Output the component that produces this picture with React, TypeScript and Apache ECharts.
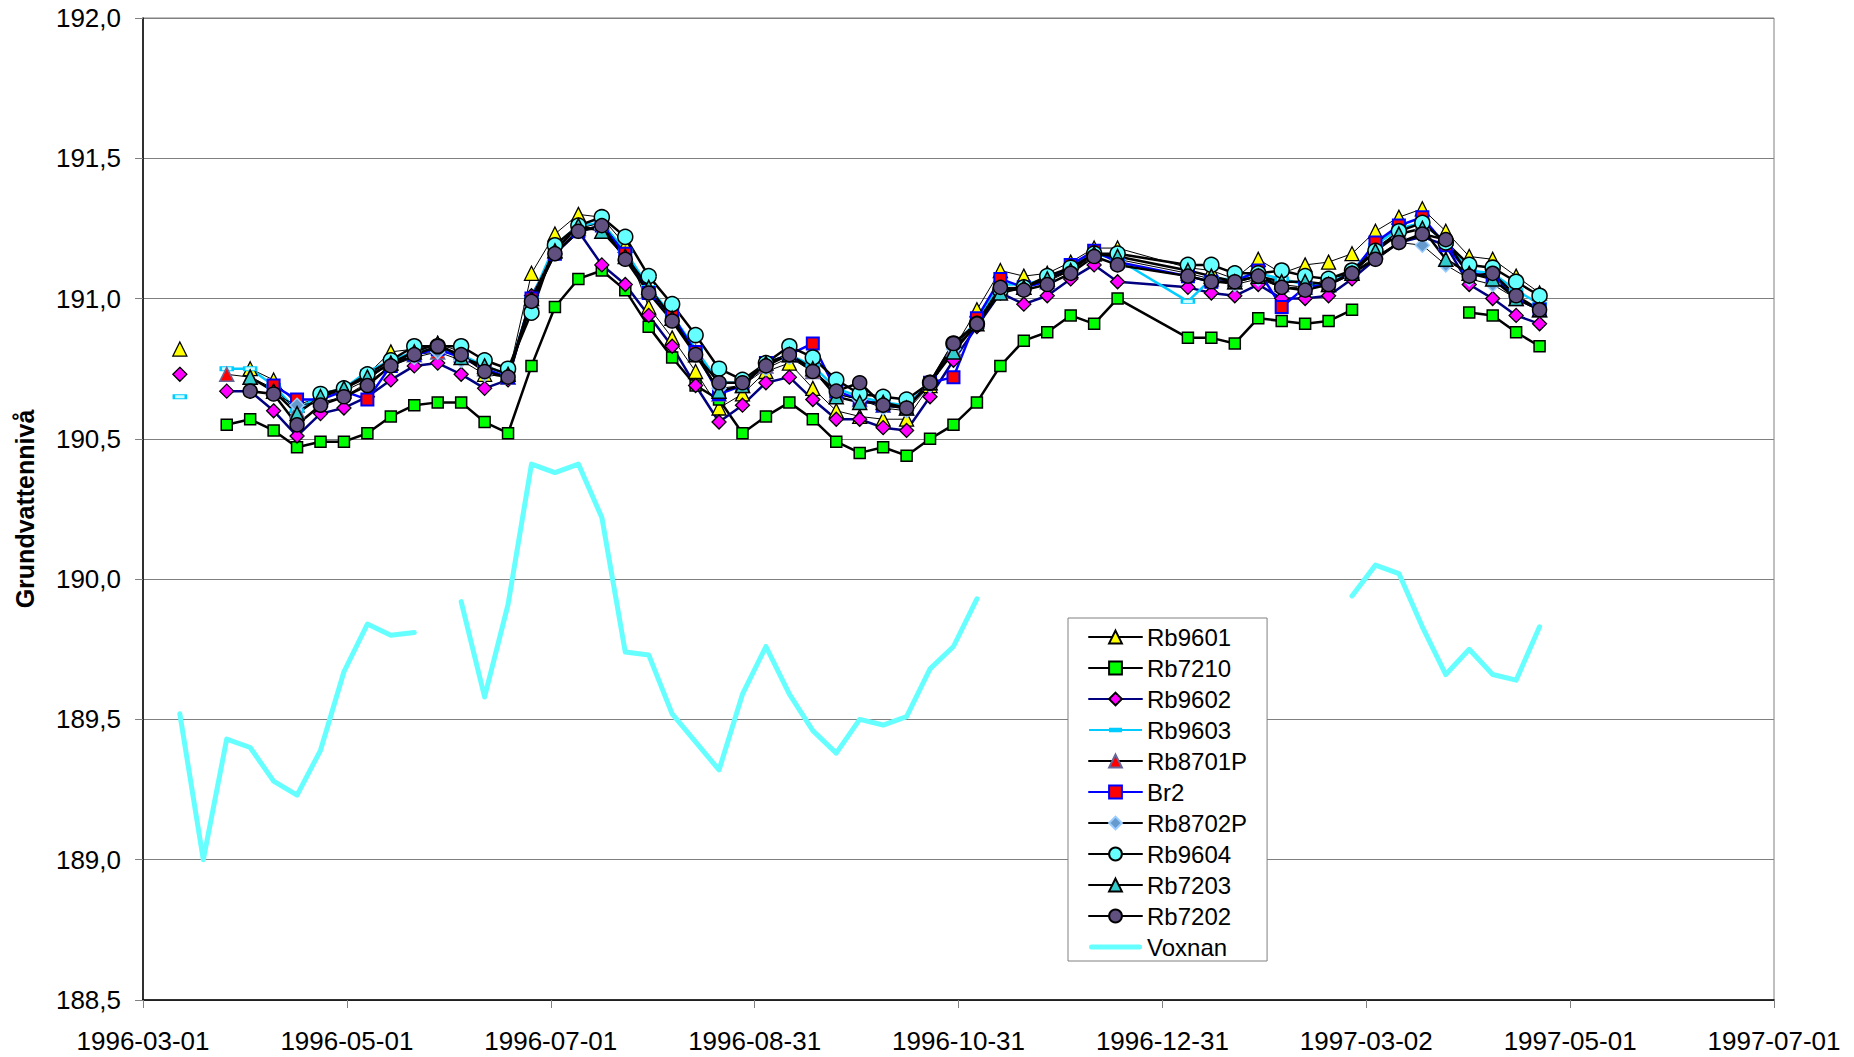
import React, { useEffect, useRef } from "react";
import * as echarts from "echarts";

// Measurement dates (weekly)
const dates = [
  "1996-03-12", "1996-03-19", "1996-03-26", "1996-04-02", "1996-04-09", "1996-04-16", "1996-04-23", "1996-04-30", "1996-05-07", "1996-05-14",
  "1996-05-21", "1996-05-28", "1996-06-04", "1996-06-11", "1996-06-18", "1996-06-25", "1996-07-02", "1996-07-09", "1996-07-16", "1996-07-23",
  "1996-07-30", "1996-08-06", "1996-08-13", "1996-08-20", "1996-08-27", "1996-09-03", "1996-09-10", "1996-09-17", "1996-09-24", "1996-10-01",
  "1996-10-08", "1996-10-15", "1996-10-22", "1996-10-29", "1996-11-05", "1996-11-12", "1996-11-19", "1996-11-26", "1996-12-03", "1996-12-10", "1996-12-17",
  "1997-01-07", "1997-01-14", "1997-01-21", "1997-01-28", "1997-02-04", "1997-02-11", "1997-02-18", "1997-02-25",
  "1997-03-04", "1997-03-11", "1997-03-18", "1997-03-25", "1997-04-01", "1997-04-08", "1997-04-15", "1997-04-22",
];

const xTickLabels = [
  "1996-03-01", "1996-05-01", "1996-07-01", "1996-08-31", "1996-10-31",
  "1996-12-31", "1997-03-02", "1997-05-01", "1997-07-01",
];
const xStart = "1996-03-01";
const xEnd = "1997-07-01";

const rb9601 = [
  190.82, null, null, 190.75, 190.71, 190.62, 190.65, 190.67, 190.73, 190.81,
  190.82, 190.84, 190.81, 190.73, 190.72, 191.09, 191.23, 191.30, 191.29, 191.19,
  190.97, 190.86, 190.74, 190.61, 190.66, 190.74, 190.77, 190.68, 190.60, 190.58,
  190.57, 190.57, 190.69, 190.82, 190.96, 191.10, 191.08, 191.09, 191.13, 191.18, 191.18,
  191.11, 191.10, 191.07, 191.14, 191.09, 191.12, 191.13, 191.16,
  191.24, 191.29, 191.32, 191.24, 191.15, 191.14, 191.08, 191.02,
];
const rb7210 = [
  null, null, 190.55, 190.57, 190.53, 190.47, 190.49, 190.49, 190.52, 190.58,
  190.62, 190.63, 190.63, 190.56, 190.52, 190.76, 190.97, 191.07, 191.10, 191.03,
  190.90, 190.79, 190.69, 190.64, 190.52, 190.58, 190.63, 190.57, 190.49, 190.45,
  190.47, 190.44, 190.50, 190.55, 190.63, 190.76, 190.85, 190.88, 190.94, 190.91, 191.00,
  190.86, 190.86, 190.84, 190.93, 190.92, 190.91, 190.92, 190.96,
  null, null, null, null, 190.95, 190.94, 190.88, 190.83,
];
const rb9602 = [
  190.73, null, 190.67, 190.67, 190.60, 190.51, 190.59, 190.61, 190.65, 190.71,
  190.76, 190.77, 190.73, 190.68, 190.71, 191.01, 191.16, 191.24, 191.12, 191.05,
  190.94, 190.83, 190.69, 190.56, 190.62, 190.70, 190.72, 190.64, 190.57, 190.57,
  190.54, 190.53, 190.65, 190.78, 190.90, 191.02, 190.98, 191.01, 191.07, 191.12, 191.06,
  191.04, 191.02, 191.01, 191.05, 191.00, 191.00, 191.01, 191.07,
  191.14, 191.20, 191.22, 191.19, 191.05, 191.00, 190.94, 190.91,
];
const rb9603 = [
  190.65, null, 190.75, 190.75, 190.69, 190.60, 190.66, 190.68, 190.74, 190.78,
  190.81, 190.82, 190.80, 190.76, 190.73, 191.00, 191.19, 191.26, 191.27, 191.17,
  191.04, 190.94, 190.82, 190.70, 190.70, 190.77, 190.80, 190.76, 190.68, 190.65,
  190.63, 190.62, 190.70, 190.83, 190.92, 191.05, 191.05, 191.07, 191.11, 191.16, 191.14,
  190.99, 191.07, 191.07, 191.09, 191.07, 191.05, 191.05, 191.10,
  191.19, 191.25, 191.27, 191.20, 191.10, 191.09, 191.03, 190.98,
];
const rb8701p = [
  null, null, 190.73, 190.72, 190.68, 190.60, 190.64, 190.67, 190.71, 190.77,
  190.80, 190.81, 190.80, 190.75, 190.72, 190.99, 191.17, 191.25, 191.27, 191.16,
  191.03, 190.93, 190.81, 190.66, 190.69, 190.76, 190.80, 190.74, 190.66, 190.64,
  190.62, 190.61, 190.70, 190.82, 190.92, 191.04, 191.04, 191.06, 191.10, 191.16, 191.14,
  191.09, 191.07, 191.06, 191.08, 191.05, 191.04, 191.05, 191.10,
  191.18, 191.24, 191.27, 191.20, 191.09, 191.08, 191.00, 190.96,
];
const br2 = [
  null, null, null, null, 190.69, 190.64, 190.64, 190.67, 190.64, 190.76,
  190.80, 190.82, 190.79, 190.75, 190.72, 191.00, 191.16, 191.24, 191.26, 191.16,
  191.02, 190.94, 190.81, 190.66, 190.69, 190.77, 190.80, 190.84, 190.67, 190.64,
  190.62, 190.61, 190.70, 190.72, 190.93, 191.07, 191.04, 191.06, 191.12, 191.17, 191.13,
  191.08, 191.06, 191.06, 191.10, 190.97, 191.04, 191.05, 191.09,
  191.20, 191.26, 191.29, 191.19, 191.09, 191.08, 191.00, 190.96,
];
const rb8702p = [
  null, null, null, null, 190.66, 190.62, 190.63, 190.65, 190.70, 190.76,
  190.79, 190.81, 190.78, 190.73, 190.72, 190.98, 191.16, 191.24, 191.25, 191.14,
  191.02, 190.92, 190.80, 190.68, 190.69, 190.75, 190.79, 190.74, 190.66, 190.64,
  190.61, 190.60, 190.69, 190.82, 190.91, 191.03, 191.03, 191.05, 191.09, 191.15, 191.12,
  191.08, 191.06, 191.05, 191.07, 191.04, 191.04, 191.07, 191.09,
  191.15, 191.20, 191.19, 191.12, 191.07, 191.05, 191.00, 190.96,
];
const rb9604 = [
  null, null, null, null, null, null, 190.66, 190.68, 190.73, 190.78,
  190.83, 190.83, 190.83, 190.78, 190.75, 190.95, 191.19, 191.26, 191.29, 191.22,
  191.08, 190.98, 190.87, 190.75, 190.71, 190.77, 190.83, 190.79, 190.71, 190.66,
  190.65, 190.64, 190.70, 190.84, 190.91, 191.03, 191.04, 191.08, 191.11, 191.16, 191.16,
  191.12, 191.12, 191.09, 191.09, 191.10, 191.08, 191.07, 191.10,
  191.17, 191.24, 191.27, 191.20, 191.12, 191.11, 191.06, 191.01,
];
const rb7203 = [
  null, null, null, 190.72, 190.67, 190.59, 190.65, 190.68, 190.72, 190.77,
  190.81, 190.84, 190.79, 190.76, 190.73, 191.00, 191.17, 191.26, 191.24, 191.15,
  191.04, 190.93, 190.80, 190.67, 190.69, 190.77, 190.80, 190.75, 190.65, 190.63,
  190.63, 190.61, 190.70, 190.81, 190.91, 191.02, 191.04, 191.07, 191.10, 191.16, 191.15,
  191.10, 191.08, 191.06, 191.08, 191.06, 191.06, 191.05, 191.09,
  191.17, 191.23, 191.25, 191.14, 191.09, 191.07, 191.00, 190.96,
];
const rb7202 = [
  null, null, null, 190.67, 190.66, 190.55, 190.62, 190.65, 190.69, 190.76,
  190.80, 190.83, 190.80, 190.74, 190.72, 190.99, 191.16, 191.24, 191.26, 191.14,
  191.02, 190.92, 190.80, 190.70, 190.70, 190.76, 190.80, 190.74, 190.67, 190.70,
  190.62, 190.61, 190.70, 190.84, 190.91, 191.04, 191.03, 191.05, 191.09, 191.15, 191.12,
  191.08, 191.06, 191.06, 191.08, 191.04, 191.03, 191.05, 191.09,
  191.14, 191.20, 191.23, 191.21, 191.08, 191.09, 191.01, 190.96,
];
const voxnan = [
  189.52, 189.00, 189.43, 189.40, 189.28, 189.23, 189.39, 189.67, 189.84, 189.80,
  189.81, null, 189.92, 189.58, 189.91, 190.41, 190.38, 190.41, 190.22, 189.74,
  189.73, 189.52, 189.42, 189.32, 189.59, 189.76, 189.59, 189.46, 189.38, 189.50,
  189.48, 189.51, 189.68, 189.76, 189.93, null, null, null, null, null, null,
  null, null, null, null, null, null, null, 189.94,
  190.05, 190.02, 189.83, 189.66, 189.75, 189.66, 189.64, 189.83,
];

const FONT = "'Liberation Sans', Arial, Helvetica, sans-serif";

function dayNum(d: string): number {
  const [y, m, dd] = d.split("-").map(Number);
  return Date.UTC(y, m - 1, dd) / 86400000;
}

const X_MIN = 0;
const X_MAX = dayNum(xEnd) - dayNum(xStart);
const X_INTERVAL = X_MAX / (xTickLabels.length - 1);

function toData(values: (number | null)[]) {
  return dates.map((d, i) => [dayNum(d) - dayNum(xStart), values[i] === null ? "-" : values[i]]);
}

type S = {
  name: string;
  values: (number | null)[];
  symbol: any;
  symbolSize: any;
  fill: string;
  border: string;
  borderWidth: number;
  line: string;
  lineWidth: number;
};

const seriesDefs: S[] = [
  { name: "Rb9601", values: rb9601, symbol: "triangle", symbolSize: 14, fill: "#FFFF00", border: "#000000", borderWidth: 1.3, line: "#000000", lineWidth: 1 },
  { name: "Rb7210", values: rb7210, symbol: "rect", symbolSize: 11, fill: "#00FF00", border: "#000000", borderWidth: 1.5, line: "#000000", lineWidth: 2.5 },
  { name: "Rb9602", values: rb9602, symbol: "diamond", symbolSize: 14, fill: "#FF00FF", border: "#000000", borderWidth: 1.3, line: "#000080", lineWidth: 2.5 },
  { name: "Rb9603", values: rb9603, symbol: "rect", symbolSize: [12, 4], fill: "#CCFFFF", border: "#00CCFF", borderWidth: 1.5, line: "#00CCFF", lineWidth: 2.5 },
  { name: "Rb8701P", values: rb8701p, symbol: "triangle", symbolSize: 14, fill: "#FF0000", border: "#666699", borderWidth: 1.5, line: "#000000", lineWidth: 1 },
  { name: "Br2", values: br2, symbol: "rect", symbolSize: 12, fill: "#FF0000", border: "#0000FF", borderWidth: 2, line: "#0000FF", lineWidth: 2.5 },
  { name: "Rb8702P", values: rb8702p, symbol: "diamond", symbolSize: 14, fill: "#6699CC", border: "#99CCFF", borderWidth: 1.5, line: "#000000", lineWidth: 1 },
  { name: "Rb9604", values: rb9604, symbol: "circle", symbolSize: 15, fill: "#66FFFF", border: "#000000", borderWidth: 1.5, line: "#000000", lineWidth: 2.5 },
  { name: "Rb7203", values: rb7203, symbol: "triangle", symbolSize: 14, fill: "#33CCCC", border: "#000000", borderWidth: 1.5, line: "#000000", lineWidth: 2.5 },
  { name: "Rb7202", values: rb7202, symbol: "circle", symbolSize: 14, fill: "#605080", border: "#000000", borderWidth: 1.5, line: "#000000", lineWidth: 2.5 },
  { name: "Voxnan", values: voxnan, symbol: "none", symbolSize: 0, fill: "#66FFFF", border: "#66FFFF", borderWidth: 0, line: "#66FFFF", lineWidth: 5 },
];

// legend icons for the two entries that are drawn as plain lines
const legendIcons: Record<string, any> = {
  Rb9603: {
    icon: "path://M0,0.5 L0,0.5 M0,2.6 L53,2.6 L53,4.4 L0,4.4 Z M20,1.2 L33,1.2 L33,5.8 L20,5.8 Z M53,6.5 L53,6.5",
    itemStyle: { color: "#00CCFF", borderWidth: 0 },
  },
  Voxnan: {
    icon: "path://M2.5,0 L50.5,0 A2.5,2.5 0 0 1 50.5,5 L2.5,5 A2.5,2.5 0 0 1 2.5,0 Z",
    itemStyle: { color: "#66FFFF", borderWidth: 0 },
  },
};

export default function App() {
  const ref = useRef<HTMLDivElement>(null);

  useEffect(() => {
    if (!ref.current) return;
    const chart = echarts.init(ref.current, undefined, { renderer: "svg" });
    const option: any = {
      animation: false,
      backgroundColor: "#ffffff",
      textStyle: { fontFamily: FONT },
      grid: {
        left: 143,
        right: 80,
        top: 18,
        bottom: 57,
        show: true,
        borderColor: "#808080",
        borderWidth: 1,
        backgroundColor: "transparent",
      },
      xAxis: {
        type: "value",
        min: X_MIN,
        max: X_MAX,
        interval: X_INTERVAL,
        axisLine: { show: true, onZero: false, lineStyle: { color: "#000000", width: 1.5 } },
        axisTick: { show: true, length: 8, lineStyle: { color: "#808080", width: 1 } },
        axisLabel: {
          fontSize: 26,
          color: "#000000",
          fontFamily: FONT,
          margin: 28,
          formatter: (v: number) => xTickLabels[Math.round(v / X_INTERVAL)] ?? "",
        },
        splitLine: { show: false },
      },
      yAxis: {
        type: "value",
        min: 188.5,
        max: 192,
        interval: 0.5,
        name: "Grundvattennivå",
        nameLocation: "middle",
        nameRotate: 90,
        nameGap: 106,
        nameTextStyle: { fontSize: 25, fontWeight: "bold", color: "#000000", fontFamily: FONT },
        axisLine: { show: true, lineStyle: { color: "#000000", width: 1.5 } },
        axisTick: { show: true, length: 8, lineStyle: { color: "#808080", width: 1 } },
        axisLabel: {
          fontSize: 26,
          color: "#000000",
          fontFamily: FONT,
          margin: 22,
          formatter: (v: number) => v.toFixed(1).replace(".", ","),
        },
        splitLine: { show: true, lineStyle: { color: "#808080", width: 1 } },
      },
      legend: {
        orient: "vertical",
        left: 1068,
        top: 618,
        padding: [7, 20, 2, 20],
        itemWidth: 53,
        itemHeight: 16,
        itemGap: 7,
        backgroundColor: "#ffffff",
        borderColor: "#808080",
        borderWidth: 1,
        borderRadius: 0,
        textStyle: { fontSize: 24, color: "#000000", fontFamily: FONT },
        data: seriesDefs.map((s) => (legendIcons[s.name] ? { name: s.name, ...legendIcons[s.name] } : s.name)),
      },
      series: seriesDefs.map((s) => ({
        name: s.name,
        type: "line",
        data: toData(s.values),
        symbol: s.symbol,
        symbolSize: s.symbolSize,
        showSymbol: s.symbol !== "none",
        connectNulls: false,
        itemStyle: { color: s.fill, borderColor: s.border, borderWidth: s.borderWidth },
        lineStyle: { color: s.line, width: s.lineWidth, cap: "round", join: "round" },
        emphasis: { disabled: true },
      })),
    };
    chart.setOption(option);
    return () => chart.dispose();
  }, []);

  return (
    <div
      ref={ref}
      style={{ position: "fixed", left: 0, top: 0, width: 1854, height: 1057, background: "#fff" }}
    />
  );
}
